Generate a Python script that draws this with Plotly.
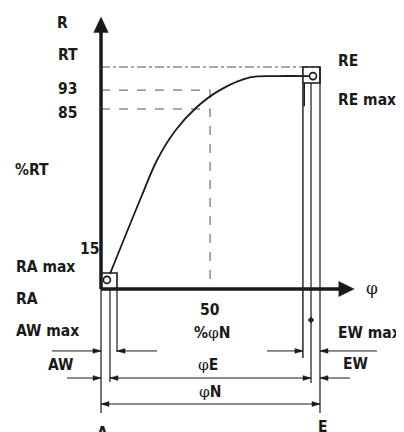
import plotly.graph_objects as go

# ---------------- data ----------------
# characteristic curve: angle in % of phiN, output in % of RT
phi_curve = [4.1, 17.8, 25.6, 33.8, 43.8, 54.3, 68.0, 79.5, 95.0]
r_curve = [6.8, 40.1, 58.1, 71.2, 82.0, 89.6, 95.3, 95.9, 95.9]

# horizontal reference levels on the R axis
level_labels = ["RT", "93", "85"]
level_r = [100.0, 89.6, 81.1]
phi_half = 49.8          # 50 % phiN mark

# start / end points (A and E) of the curve
point_phi = [2.7, 96.8]
point_r = [4.1, 95.9]

# tolerances (in % of phiN / % of RT)
aw, aw_max = 4.1, 7.3
ew, ew_max = 4.1, 7.8
ra_max = 7.2
re_box = 7.2
phi_n = 100.0

# ---------------- drawing ----------------
INK = "#1a1a1a"
GREY = "#555555"
XU, YU = 2.19, 2.22      # px per unit

fig = go.Figure()


def line(xs, ys, width=1.0, color=INK, dash="solid"):
    fig.add_trace(go.Scatter(x=xs, y=ys, mode="lines",
                             line=dict(color=color, width=width, dash=dash),
                             hoverinfo="skip", showlegend=False))


def tri(xs, ys, color=INK):
    fig.add_trace(go.Scatter(x=xs + [xs[0]], y=ys + [ys[0]], mode="lines",
                             fill="toself", fillcolor=color,
                             line=dict(color=color, width=0.5),
                             hoverinfo="skip", showlegend=False))


def arrow(xt, y, direction):
    """small dimension arrowhead with tip at (xt, y)"""
    L = 8 / XU
    H = 2.4 / YU
    xb = xt - L if direction == "right" else xt + L
    tri([xt, xb, xb], [y, y + H, y - H])


# level lines
line([0, phi_n], [level_r[0]] * 2, width=1, color=GREY, dash="dashdot")
line([0, phi_half, phi_half], [level_r[1], level_r[1], level_r[1] - 4.5],
     width=1, color=GREY, dash="dash")
line([0, phi_half, phi_half], [level_r[2], level_r[2], 0],
     width=1, color=GREY, dash="dash")

# curve
fig.add_trace(go.Scatter(x=phi_curve, y=r_curve, mode="lines",
                         line=dict(color=INK, width=1.8, shape="spline",
                                   smoothing=0.9),
                         hoverinfo="skip", showlegend=False))

# tolerance boxes
line([0, aw_max, aw_max, 0], [ra_max, ra_max, 0, 0], width=1.6)
x0 = phi_n - ew_max
line([x0, x0, phi_n, phi_n, x0], [100 - re_box, 100, 100, 100 - re_box, 100 - re_box],
     width=1.6)
fig.add_trace(go.Scatter(x=point_phi, y=point_r, mode="markers",
                         marker=dict(symbol="circle-open", size=7, color=INK,
                                     line=dict(color=INK, width=1.6)),
                         hoverinfo="skip", showlegend=False))

# vertical extension lines
yb = 100 - re_box
line([0, 0], [0, -55.9], width=1.2)
line([aw, aw], [0, -41.9], width=1.2)
line([aw_max, aw_max], [0, -28.4], width=1.2)
line([phi_n - ew_max, phi_n - ew_max], [yb, -31.1], width=1.4)
line([phi_n - ew_max + 0.6, phi_n - ew_max + 0.6], [yb, yb - 10.5], width=1.6)
line([phi_n - ew, phi_n - ew], [yb, -42.3], width=1.2)
line([phi_n, phi_n], [100, -55.9], width=1.2)
fig.add_trace(go.Scatter(x=[phi_n - ew], y=[-14.0], mode="markers",
                         marker=dict(symbol="diamond", size=5, color=INK),
                         hoverinfo="skip", showlegend=False))

# axes (thick) with arrowheads
line([0, 0], [0, 116.0], width=3.5)
tri([0, -3.3, 3.3], [122.5, 115.6, 115.6])
line([0, 109.0], [0, 0], width=3.5)
tri([115.6, 108.6, 108.6], [0, 3.4, -3.4])

# dimension rows
y1, y2, y3 = -27.9, -40.1, -51.8
# AW max
line([-22.4, 0], [y1, y1]); arrow(0, y1, "right")
line([aw_max, 25.6], [y1, y1]); arrow(aw_max, y1, "left")
# AW
line([-15.5, 0], [y2, y2]); arrow(0, y2, "right")
# phiE
line([aw, phi_n - ew], [y2, y2]); arrow(aw, y2, "left"); arrow(phi_n - ew, y2, "right")
# EW
line([phi_n, 113.7], [y2, y2]); arrow(phi_n, y2, "left")
# EW max
line([75.8, phi_n - ew_max], [y1, y1]); arrow(phi_n - ew_max, y1, "right")
line([phi_n, 126.0], [y1, y1]); arrow(phi_n, y1, "left")
# phiN
line([0, phi_n], [y3, y3]); arrow(0, y3, "left"); arrow(phi_n, y3, "right")

# ---------------- labels ----------------
FONT = "Liberation Sans Narrow, Arial Narrow, DejaVu Sans Condensed, sans-serif"
PHI = "<span style='font-family:DejaVu Serif;font-weight:normal'>φ</span>"

labels = [
    ("R", -17.4, 119.8, "center", "middle", None),
    (level_labels[0], -15.1, 105.4, "center", "middle", None),
    (level_labels[1], -15.1, 90.3, "center", "middle", None),
    (level_labels[2], -15.1, 79.3, "center", "middle", None),
    ("%RT", -31.5, 53.6, "center", "middle", None),
    ("15", -0.3, 18.0, "right", "middle", None),
    ("RA max", -39.3, 9.9, "left", "middle", None),
    ("RA", -39.3, -4.5, "left", "middle", None),
    ("AW max", -39.3, -18.9, "left", "middle", None),
    ("AW", -24.7, -34.2, "left", "middle", None),
    ("A", 0.9, -60.2, "center", "top", None),
    ("50", phi_half, -9.5, "center", "middle", None),
    ("%" + PHI + "N", 50.7, -19.8, "center", "middle", None),
    (PHI + "E", 49.0, -34.4, "center", "middle", "white"),
    (PHI + "N", 50.2, -46.4, "center", "middle", "white"),
    ("E", 101.4, -57.6, "center", "top", None),
    ("EW max", 137.6, -19.8, "right", "middle", None),
    ("EW", 110.0, -33.8, "left", "middle", None),
    ("RE", 107.8, 102.7, "left", "middle", None),
    ("RE max", 107.8, 85.1, "left", "middle", None),
]
for text, x, y, xa, ya, bg in labels:
    fig.add_annotation(x=x, y=y, text=text, showarrow=False, xanchor=xa,
                       yanchor=ya, bgcolor=bg, borderpad=0,
                       font=dict(family=FONT, size=15.5, color=INK, weight="bold"))

fig.add_annotation(x=123.7, y=0.4, text="φ", showarrow=False, xanchor="center",
                   yanchor="middle",
                   font=dict(family="DejaVu Serif", size=17, color=INK))

# the page body adds an 8 px margin, so the figure is 8 px smaller
# and its ranges start 8 px further in
fig.update_layout(
    width=396, height=424,
    margin=dict(l=0, r=0, t=0, b=0),
    paper_bgcolor="white", plot_bgcolor="white",
    xaxis=dict(range=[-42.47, 138.36], visible=False, fixedrange=True),
    yaxis=dict(range=[-64.41, 126.58], visible=False, fixedrange=True),
    showlegend=False,
)

fig.write_html("out.html")
